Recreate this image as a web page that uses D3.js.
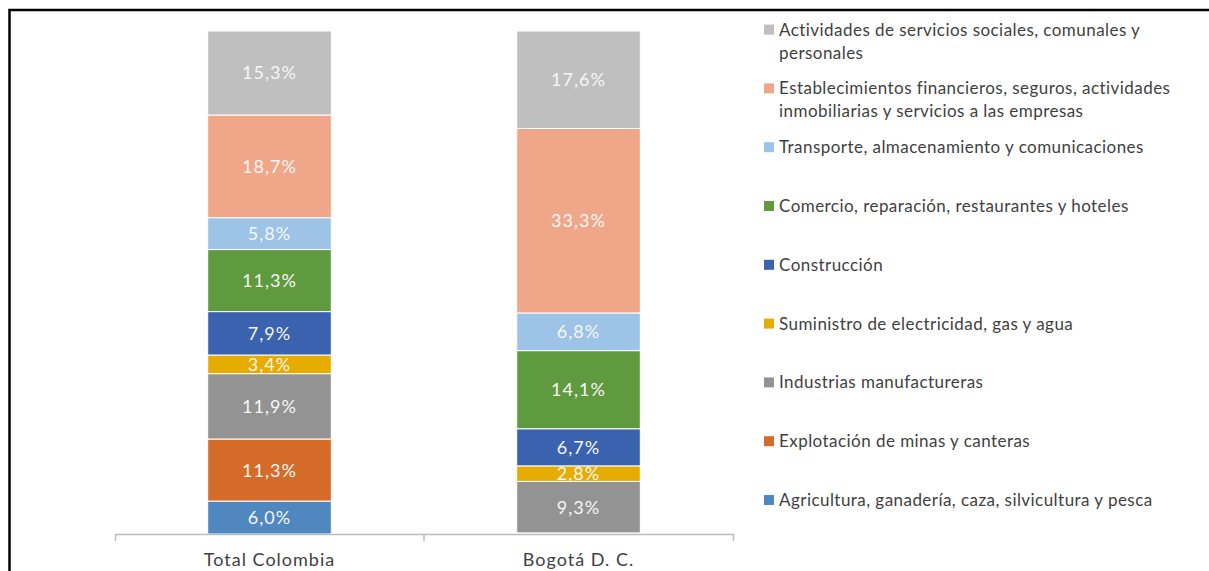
<!DOCTYPE html>
<html>
<head>
<meta charset="utf-8">
<script src="https://cdn.jsdelivr.net/npm/d3@7"></script>
<style>
  html, body { margin: 0; padding: 0; background: #fff; overflow: hidden; }
  svg { display: block; }
</style>
</head>
<body>
<div id="chart"></div>
<script>
// Participación por sector, Total Colombia vs Bogotá D. C.
const categories = ["Total Colombia", "Bogotá D. C."];

// series order = stack order from the bottom
const sectors = [
    "Agricultura, ganadería, caza, silvicultura y pesca",
    "Explotación de minas y canteras",
    "Industrias manufactureras",
    "Suministro de electricidad, gas y agua",
    "Construcción",
    "Comercio, reparación, restaurantes y hoteles",
    "Transporte, almacenamiento y comunicaciones",
    "Establecimientos financieros, seguros, actividades inmobiliarias y servicios a las empresas",
    "Actividades de servicios sociales, comunales y personales"
];

const totalColombia = [6.0, 11.3, 11.9, 3.4, 7.9, 11.3, 5.8, 18.7, 15.3];
const bogota = [0.1, 0.1, 9.3, 2.8, 6.7, 14.1, 6.8, 33.3, 17.6];

const COLOURS = [
    "#4f88c0", // agricultura
    "#d46b29", // minas
    "#939393", // industrias
    "#e6ac00", // electricidad
    "#3a62ae", // construccion
    "#5f9a3e", // comercio
    "#9dc3e6", // transporte
    "#f0a789", // financieros
    "#bfbfbf"  // servicios sociales
];

// legend labels wrapped like the original
const legendLines = {
    7: ["Establecimientos financieros, seguros, actividades", "inmobiliarias y servicios a las empresas"],
    8: ["Actividades de servicios sociales, comunales y", "personales"]
};

const W = 1209, H = 571;
const FONT = "Lato, 'Noto Sans', sans-serif";

const svg = d3.select("#chart").append("svg")
    .attr("width", W)
    .attr("height", H);

// build rows for the stack
const rows = categories.map((c, i) => {
    const src = i === 0 ? totalColombia : bogota;
    const row = {cat: c};
    sectors.forEach((s, j) => row[s] = src[j]);
    return row;
});

const series = d3.stack()
    .keys(sectors)
    .offset(d3.stackOffsetExpand)(rows);

const axisY = 534, topY = 31;
const xOuter = d3.scaleBand().domain(categories).range([115, 733]).padding(0);
const x = d3.scaleBand().domain(categories).range([115, 733])
    .paddingInner(0.6).paddingOuter(0.3);
const y = d3.scaleLinear().domain([0, 1]).range([axisY, topY]);
const colour = d3.scaleOrdinal().domain(sectors).range(COLOURS);

// bars
const layer = svg.append("g").selectAll("g")
    .data(series)
    .join("g")
    .attr("fill", d => colour(d.key));

layer.selectAll("rect")
    .data(d => d.map(p => ({key: d.key, p})))
    .join("rect")
    .attr("x", d => x(d.p.data.cat))
    .attr("width", x.bandwidth())
    .attr("y", d => y(d.p[1]))
    .attr("height", d => y(d.p[0]) - y(d.p[1]))
    .attr("stroke", "#fff")
    .attr("stroke-width", 1);

// value labels
layer.selectAll("text")
    .data(d => d.map(p => ({key: d.key, p, v: p.data[d.key]})).filter(e => e.v >= 1))
    .join("text")
    .attr("x", d => x(d.p.data.cat) + x.bandwidth() / 2)
    .attr("y", d => (y(d.p[0]) + y(d.p[1])) / 2)
    .attr("dy", "0.36em")
    .attr("text-anchor", "middle")
    .attr("fill", "#f6f6f6")
    .style("font-family", FONT)
    .style("font-size", "18px")
    .style("letter-spacing", "1px")
    .text(d => d3.format(".1f")(d.v).replace(".", ",") + "%");

// category axis
const axisG = svg.append("g")
    .attr("transform", `translate(0,${axisY})`)
    .call(d3.axisBottom(xOuter).tickSize(0).tickSizeOuter(7).tickPadding(19));
axisG.select(".domain").attr("stroke", "#bcbcbc").attr("stroke-width", 1.5);
axisG.selectAll(".tick text")
    .attr("fill", "#3f3f3f")
    .style("font-family", FONT)
    .style("font-size", "18px")
    .style("letter-spacing", "1px");
axisG.selectAll(".sep")
    .data(categories.slice(1))
    .join("line")
    .attr("class", "sep")
    .attr("x1", d => xOuter(d)).attr("x2", d => xOuter(d))
    .attr("y1", 0).attr("y2", 7)
    .attr("stroke", "#bcbcbc").attr("stroke-width", 1.5);

// legend (reverse order, top = last series)
const legendItems = sectors.map((s, i) => ({s, i})).reverse();
const legendStep = 58.8, legendTop = 29.6;
const legend = svg.append("g").selectAll("g")
    .data(legendItems)
    .join("g")
    .attr("transform", (d, k) => `translate(764,${legendTop + k * legendStep})`);

legend.append("rect")
    .attr("x", 0).attr("y", -5)
    .attr("width", 10).attr("height", 10)
    .attr("fill", d => colour(d.s));

legend.append("text")
    .attr("x", 15)
    .attr("fill", "#3f3f3f")
    .style("font-family", FONT)
    .style("font-size", "17px")
    .style("letter-spacing", "0.45px")
    .selectAll("tspan")
    .data(d => legendLines[d.i] || [d.s])
    .join("tspan")
    .attr("x", 15)
    .attr("y", (d, j) => j * 23)
    .attr("dy", "0.35em")
    .text(d => d);

// outer frame, only left and top edges visible
svg.append("path")
    .attr("d", `M9.5,${H} V10 H${W}`)
    .attr("fill", "none")
    .attr("stroke", "#000")
    .attr("stroke-width", 2.5);
</script>
</body>
</html>
